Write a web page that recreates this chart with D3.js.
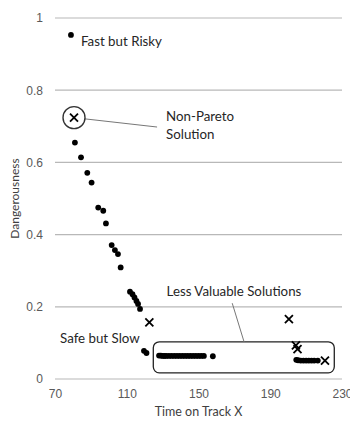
<!DOCTYPE html>
<html>
<head>
<meta charset="utf-8">
<script src="https://cdn.jsdelivr.net/npm/d3@7"></script>
<style>
  body { margin: 0; background: #fff; }
  svg { display: block; font-family: Lato, "Open Sans", sans-serif; }
</style>
</head>
<body>
<div id="chart"></div>
<script>

// Pareto solutions (dots)
var paretoTime = [78.9, 81.1, 84.5, 88.0, 90.4, 94.1, 96.9, 98.4, 101.6, 103.4, 105.1, 106.6,
  111.8, 113.2, 114.3, 115.4, 116.3, 117.4, 119.6, 121.0,
  128, 129, 130, 131, 132, 133.5, 135, 136.5, 138, 139.5, 141, 142.5, 144, 145.5, 147, 148.5, 150, 151.5, 153, 158,
  204.5, 205.5, 207, 208.5, 210, 211.5, 213, 214.5, 216.5];
var paretoDanger = [0.953, 0.655, 0.614, 0.571, 0.544, 0.475, 0.466, 0.431, 0.371, 0.357, 0.346, 0.309,
  0.242, 0.235, 0.226, 0.216, 0.208, 0.194, 0.078, 0.072,
  0.065, 0.065, 0.064, 0.064, 0.064, 0.064, 0.064, 0.064, 0.064, 0.064, 0.064, 0.064, 0.064, 0.064, 0.064, 0.064, 0.064, 0.064, 0.064, 0.063,
  0.053, 0.052, 0.051, 0.051, 0.051, 0.051, 0.051, 0.051, 0.051];

// Non-Pareto solutions (crosses)
var crossTime = [80.6, 122.6, 200.4, 204.3, 205.2, 220.5];
var crossDanger = [0.724, 0.157, 0.166, 0.093, 0.083, 0.051];

// Axis ticks
var xTicks = [70, 110, 150, 190, 230];
var yTicks = [0, 0.2, 0.4, 0.6, 0.8, 1];

var W = 350, H = 421;
var margin = { top: 18, right: 8, bottom: 42, left: 55 };

var svg = d3.select("#chart").append("svg")
  .attr("width", W)
  .attr("height", H);

var x = d3.scaleLinear().domain([70, 230]).range([margin.left, 342]);
var y = d3.scaleLinear().domain([0, 1]).range([H - margin.bottom, margin.top]);

// Gridlines
svg.append("g").selectAll("line")
  .data(yTicks)
  .enter().append("line")
  .attr("x1", x(70)).attr("x2", x(230))
  .attr("y1", function(d) { return y(d); })
  .attr("y2", function(d) { return y(d); })
  .attr("stroke", "#b8b8b8")
  .attr("stroke-width", 1.2);

// Y axis labels
var yAxis = d3.axisLeft(y).tickValues(yTicks).tickSize(0).tickPadding(12)
  .tickFormat(function(d) { return d === 0 || d === 1 ? d : d3.format(".1f")(d); });
svg.append("g")
  .attr("transform", "translate(" + x(70) + ",0)")
  .call(yAxis)
  .call(function(g) { g.select(".domain").remove(); })
  .selectAll("text")
  .attr("fill", "#595959")
  .style("font-size", "12px");

// X axis labels
var xAxis = d3.axisBottom(x).tickValues(xTicks).tickSize(0).tickPadding(10);
svg.append("g")
  .attr("transform", "translate(0," + y(0) + ")")
  .call(xAxis)
  .call(function(g) { g.select(".domain").remove(); })
  .selectAll("text")
  .attr("fill", "#595959")
  .style("font-size", "12px");

// Axis titles
svg.append("text")
  .attr("x", (x(70) + x(230)) / 2)
  .attr("y", H - 5)
  .attr("text-anchor", "middle")
  .attr("fill", "#404040")
  .style("font-size", "12.5px")
  .text("Time on Track  X");

svg.append("text")
  .attr("transform", "translate(19," + (y(0) + y(1)) / 2 + ") rotate(-90)")
  .attr("text-anchor", "middle")
  .attr("fill", "#404040")
  .style("font-size", "12px")
  .text("Dangerousness");

// Less valuable box
svg.append("rect")
  .attr("x", x(124.8))
  .attr("y", y(0.103))
  .attr("width", x(225.7) - x(124.8))
  .attr("height", y(0.017) - y(0.103))
  .attr("rx", 6)
  .attr("fill", "none")
  .attr("stroke", "#222")
  .attr("stroke-width", 1.3);

// Leader lines
svg.append("line")
  .attr("x1", x(168.8)).attr("y1", y(0.210))
  .attr("x2", x(175.4)).attr("y2", y(0.103))
  .attr("stroke", "#777").attr("stroke-width", 1);

var cx = x(crossTime[0]), cy = y(crossDanger[0]), r = 11;
var lx = x(126.9), ly = y(0.698);
var ang = Math.atan2(ly - cy, lx - cx);
svg.append("line")
  .attr("x1", cx + r * Math.cos(ang)).attr("y1", cy + r * Math.sin(ang))
  .attr("x2", lx).attr("y2", ly)
  .attr("stroke", "#777").attr("stroke-width", 1);

svg.append("circle")
  .attr("cx", cx).attr("cy", cy).attr("r", r)
  .attr("fill", "none")
  .attr("stroke", "#333")
  .attr("stroke-width", 1.4);

// Dots
svg.append("g").selectAll("circle")
  .data(paretoTime)
  .enter().append("circle")
  .attr("cx", function(d) { return x(d); })
  .attr("cy", function(d, i) { return y(paretoDanger[i]); })
  .attr("r", 2.9)
  .attr("fill", "#000");

// Crosses
svg.append("g").selectAll("path")
  .data(crossTime)
  .enter().append("path")
  .attr("d", function(d, i) {
    var px = x(d), py = y(crossDanger[i]), s = 4;
    return "M" + (px - s) + "," + (py - s) + "L" + (px + s) + "," + (py + s) +
      "M" + (px - s) + "," + (py + s) + "L" + (px + s) + "," + (py - s);
  })
  .attr("stroke", "#000")
  .attr("stroke-width", 1.8)
  .attr("fill", "none");

// Annotation labels
var notes = [
  { t: 84.5, d: 0.934, text: "Fast but Risky" },
  { t: 131.9, d: 0.727, text: "Non-Pareto" },
  { t: 131.9, d: 0.679, text: "Solution" },
  { t: 132.2, d: 0.244, text: "Less Valuable Solutions" },
  { t: 72.8, d: 0.113, text: "Safe but Slow" }
];
svg.append("g").selectAll("text")
  .data(notes)
  .enter().append("text")
  .attr("x", function(d) { return x(d.t); })
  .attr("y", function(d) { return y(d.d); })
  .attr("dy", "0.35em")
  .attr("fill", "#262626")
  .style("font-size", "13.3px")
  .text(function(d) { return d.text; });

</script>
</body>
</html>
